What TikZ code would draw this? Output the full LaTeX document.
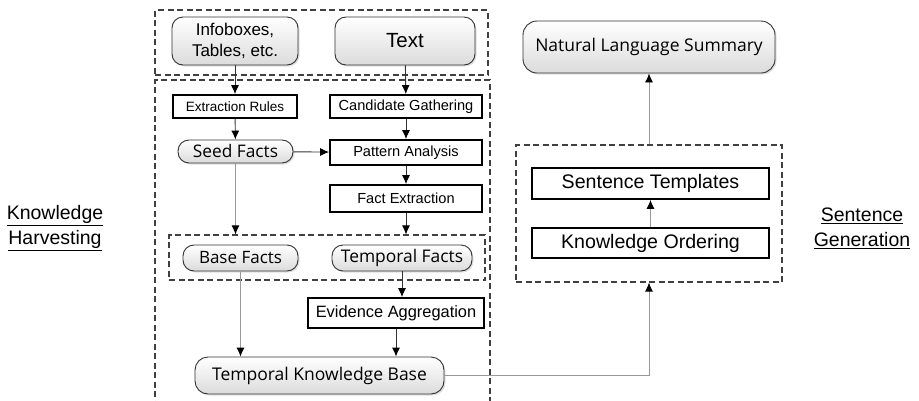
\documentclass[tikz,border=0pt]{standalone}
\usepackage{fontspec}
\setmainfont{Liberation Sans}
\newfontfamily\softfont{Open Sans}
\usetikzlibrary{arrows.meta,shadows}

\tikzset{
	x=1pt, y=-1pt,
	procbox/.style={draw=black, line width=1.8pt, fill=white, inner sep=0pt},
	databox/.style={draw=black!80, line width=0.9pt, rounded corners=11pt, top color=white, bottom color=black!14,
		drop shadow={shadow xshift=1.5pt, shadow yshift=-1.5pt, opacity=0.25}, inner sep=0pt},
	groupbox/.style={draw=black!75, dash pattern=on 6pt off 3.5pt, line width=1.1pt, inner sep=0pt},
	flow/.style={draw=black!80, line width=0.9pt, -{Latex[length=9pt,width=8pt,black]}},
	lightflow/.style={draw=black!40, line width=0.9pt, -{Latex[length=9pt,width=8pt,black]}},
	phase/.style={font=\fontsize{19.5}{25}\selectfont, align=center}
}

\begin{document}
\begin{tikzpicture}
	\useasboundingbox (0,0) rectangle (919,400);
	
	% groups
	\node[groupbox, minimum width=333, minimum height=65]  (src)  at (321.5,42.5) {};
	\node[groupbox, minimum width=335, minimum height=330] (harv) at (322.5,245)  {};
	\node[groupbox, minimum width=316, minimum height=45]  (facts) at (327,257.5) {};
	\node[groupbox, minimum width=266, minimum height=137] (gen)  at (649,213.5)  {};
	
	% sources
	\node[databox, minimum width=126, minimum height=48, align=center, font=\fontsize{17}{21}\selectfont] (info) at (235,41) {Infoboxes,\\Tables, etc.};
	\node[databox, minimum width=140, minimum height=48, font=\fontsize{20.5}{22}\selectfont] (text) at (405,41) {Text};
	
	% harvesting
	\node[procbox, minimum width=124, minimum height=23, font=\fontsize{13.5}{16}\selectfont] (rules) at (235,106.5) {Extraction Rules};
	\node[procbox, minimum width=152, minimum height=23, font=\fontsize{14.6}{16}\selectfont] (cand)  at (406,106.5) {Candidate Gathering};
	\node[databox, minimum width=115, minimum height=23, font=\softfont\fontsize{17.3}{19}\selectfont] (seed) at (235.5,151.5) {Seed Facts};
	\node[procbox, minimum width=152, minimum height=25, font=\fontsize{14.6}{16}\selectfont] (patt)  at (406,152.5) {Pattern Analysis};
	\node[procbox, minimum width=152, minimum height=27, font=\fontsize{14.6}{16}\selectfont] (fact)  at (406,198.5) {Fact Extraction};
	\node[databox, minimum width=115, minimum height=26, font=\softfont\fontsize{17}{19}\selectfont] (base) at (240.5,258) {Base Facts};
	\node[databox, minimum width=140, minimum height=26, font=\softfont\fontsize{17.4}{19}\selectfont] (temp) at (402,258) {Temporal Facts};
	\node[procbox, minimum width=176, minimum height=30, font=\fontsize{16.4}{19}\selectfont] (evid)  at (396,313) {Evidence Aggregation};
	\node[databox, minimum width=249, minimum height=37, rounded corners=13pt, font=\softfont\fontsize{17.5}{20}\selectfont] (tkb) at (319.5,375.5) {Temporal Knowledge Base};
	
	% generation
	\node[procbox, minimum width=237, minimum height=31, font=\fontsize{19.6}{21}\selectfont] (tmpl)  at (650.5,183.5) {Sentence Templates};
	\node[procbox, minimum width=237, minimum height=30, font=\fontsize{19.6}{21}\selectfont] (order) at (650.5,243)   {Knowledge Ordering};
	\node[databox, minimum width=252, minimum height=52, rounded corners=14pt, font=\softfont\fontsize{17.5}{19}\selectfont] (summ) at (649,47) {Natural Language Summary};
	
	% phase labels
	\node[phase] (harvlbl) at (55,228) {\underline{Knowledge}\\\underline{Harvesting}};
	\node[phase] (genlbl)  at (862,228) {\underline{Sentence}\\\underline{Generation}};
	
	\path [flow]
	(info) edge (rules)
	(text) edge (cand)
	(rules) edge (seed)
	(cand) edge (patt)
	(seed) edge (patt)
	(patt) edge (fact)
	(fact) edge (fact |- facts.north)
	(temp) edge (temp |- evid.north)
	(evid) edge (evid |- tkb.north);
	
	\path [lightflow]
	(seed) edge (seed |- facts.north)
	(base) edge (base |- tkb.north)
	(order) edge (tmpl)
	(gen) edge (summ);
	
	\draw [lightflow] (tkb.east) -| (gen.south);
\end{tikzpicture}
\end{document}
